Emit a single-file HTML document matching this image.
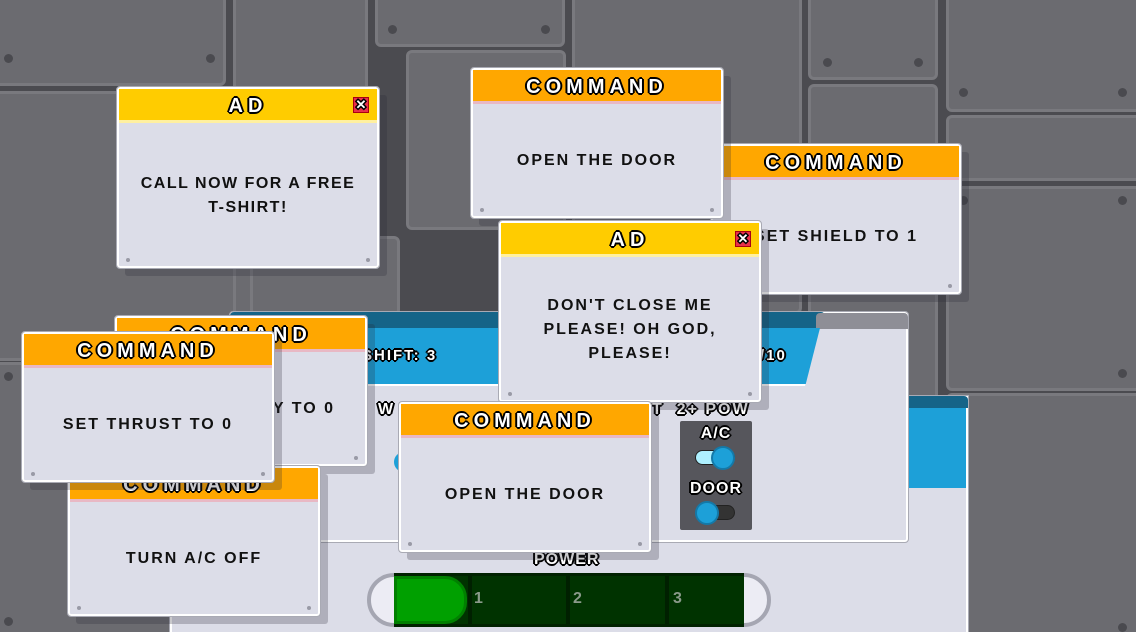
<!DOCTYPE html>
<html style="width:1136px;height:632px;overflow:hidden"><head><meta charset="utf-8"><style>
*{margin:0;padding:0;box-sizing:border-box}
body{width:1136px;height:632px;overflow:hidden;background:#4b4b50;position:relative;font-family:"Liberation Sans",sans-serif}
.p{position:absolute;background:#6b6b70;border:3px solid #79797e;border-radius:6px}
.p i{position:absolute;width:9px;height:9px;border-radius:50%;background:#4a4a4f}
.a{position:absolute}
.win{position:absolute;width:252px;height:150px;background:#dcdde8;border:2px solid #fff;outline:1px solid #a9aab4;border-radius:3px;box-shadow:8px 8px 0 rgba(40,40,50,.25)}
.win .h{height:34px;background:#ffa700;border-bottom:3px solid #e8b8c4;text-align:center;line-height:34px;font-weight:bold;font-size:20px;letter-spacing:5px;color:#fff;text-shadow:-2px 0 0 #000,2px 0 0 #000,0 -2px 0 #000,0 2px 0 #000,-1px -1px 0 #000,1px 1px 0 #000,1px -1px 0 #000,-1px 1px 0 #000}
.win.ad .h{background:#ffcc00;border-bottom-color:#fff0a0}
.win .b{position:absolute;left:0;right:0;top:36px;bottom:0;display:flex;align-items:center;justify-content:center;text-align:center;font-weight:bold;font-size:16px;letter-spacing:2px;color:#111;line-height:24px;padding:0 4px;white-space:nowrap}
.win .d1,.win .d2{position:absolute;bottom:4px;width:4px;height:4px;border-radius:50%;background:#999aa6}
.win .d1{left:7px}.win .d2{right:7px}
.x{position:absolute;right:8px;top:8px;width:16px;height:16px;background:#e8304a;border:1px solid #a01;color:#fff;font-size:13px;line-height:14px;text-align:center;font-weight:bold;letter-spacing:0}
.ol{color:#fff;font-weight:bold;text-shadow:-2px 0 0 #000,2px 0 0 #000,0 -2px 0 #000,0 2px 0 #000,-1px -1px 0 #000,1px 1px 0 #000,1px -1px 0 #000,-1px 1px 0 #000;letter-spacing:2px}
</style></head><body>
<div class="p" style="left:-6px;top:-6px;width:232px;height:92px"><i style="left:7px;bottom:20px"></i><i style="right:8px;bottom:20px"></i></div>
<div class="p" style="left:-6px;top:91px;width:248px;height:270px"></div>
<div class="p" style="left:-6px;top:362px;width:248px;height:280px"><i style="left:7px;top:7px"></i><i style="left:7px;bottom:13px"></i></div>
<div class="p" style="left:233px;top:-6px;width:135px;height:146px"></div>
<div class="p" style="left:233px;top:146px;width:135px;height:180px"></div>
<div class="p" style="left:250px;top:236px;width:150px;height:80px"></div>
<div class="p" style="left:375px;top:-6px;width:190px;height:53px"><i style="left:10px;bottom:10px"></i><i style="right:12px;bottom:10px"></i></div>
<div class="p" style="left:406px;top:50px;width:160px;height:180px"></div>
<div class="p" style="left:572px;top:-6px;width:230px;height:320px"></div>
<div class="p" style="left:808px;top:-6px;width:130px;height:86px"><i style="left:12px;bottom:10px"></i><i style="right:12px;bottom:10px"></i></div>
<div class="p" style="left:808px;top:84px;width:130px;height:330px"></div>
<div class="p" style="left:946px;top:-6px;width:196px;height:118px"><i style="left:10px;bottom:12px"></i><i style="right:12px;bottom:12px"></i></div>
<div class="p" style="left:946px;top:115px;width:196px;height:66px"></div>
<div class="p" style="left:946px;top:186px;width:196px;height:205px"><i style="left:10px;top:7px"></i><i style="right:12px;top:7px"></i><i style="right:12px;bottom:10px"></i></div>
<div class="p" style="left:946px;top:393px;width:196px;height:250px"><i style="right:12px;bottom:8px"></i></div>

<div class="a" style="left:170px;top:396px;width:798px;height:236px;background:#dcdde8;border:2px solid #fff;border-bottom:none;outline:1px solid #a9aab4"></div>
<div class="a" style="left:905px;top:396px;width:63px;height:14px;background:#156488;border-radius:4px 4px 0 0"></div>
<div class="a" style="left:905px;top:408px;width:63px;height:80px;background:#1da0d8;border-right:2px solid #fff"></div>

<div class="a" style="left:230px;top:312px;width:678px;height:230px;background:#dcdde8;border:2px solid #fff;outline:1px solid #a9aab4;border-radius:3px"></div>
<div class="a" style="left:230px;top:312px;width:595px;height:16px;background:#156488;border-radius:4px 4px 0 0"></div>
<div class="a" style="left:816px;top:313px;width:92px;height:16px;background:#8e8e96;border-radius:4px 4px 0 0"></div>
<div class="a" style="left:230px;top:328px;width:590px;height:58px;background:#1da0d8;border-bottom:2px solid #fff;clip-path:polygon(0 0,100% 0,97.5% 100%,0 100%)"></div>
<div class="a ol" style="left:362px;top:347px;font-size:15px">SHIFT: 3</div>
<div class="a ol" style="left:760px;top:347px;font-size:15px">/10</div>
<div class="a ol" style="left:378px;top:401px;font-size:16px">W</div>
<div class="a ol" style="left:652px;top:401px;font-size:16px">T&nbsp;&nbsp;2+ POW</div>
<div class="a" style="left:394px;top:452px;width:10px;height:20px;border-radius:10px 0 0 10px;background:#1da0d8"></div>

<div class="a" style="left:680px;top:421px;width:72px;height:109px;background:#56565c;border-radius:2px"></div>
<div class="a ol" style="left:680px;top:425px;width:72px;text-align:center;font-size:16px;letter-spacing:1px">A/C</div>
<div class="a" style="left:695px;top:450px;width:40px;height:15px;border-radius:8px;background:#aef0ff;border:1px solid #222"></div>
<div class="a" style="left:711px;top:446px;width:24px;height:24px;border-radius:50%;background:#1da0d8;border:2px solid #1479a8"></div>
<div class="a ol" style="left:680px;top:480px;width:72px;text-align:center;font-size:16px;letter-spacing:1px">DOOR</div>
<div class="a" style="left:696px;top:505px;width:39px;height:15px;border-radius:8px;background:#333;border:1px solid #222"></div>
<div class="a" style="left:695px;top:501px;width:24px;height:24px;border-radius:50%;background:#1da0d8;border:2px solid #1479a8"></div>

<div class="a ol" style="left:534px;top:551px;font-size:16px;letter-spacing:1px">POWER</div>
<div class="a" style="left:367px;top:573px;width:404px;height:54px;border-radius:27px;background:#ececf4;border:4px solid #a5a6b2"></div>
<div class="a" style="left:394px;top:573px;width:350px;height:54px;background:#003300;border-top:3px solid #002200;border-bottom:3px solid #002200"></div>
<div class="a" style="left:394px;top:576px;width:73px;height:48px;background:#00a000;border:3px solid #008000;border-radius:0 22px 22px 0"></div>
<div class="a" style="left:468px;top:576px;width:4px;height:48px;background:#002000"></div>
<div class="a" style="left:566px;top:576px;width:4px;height:48px;background:#002000"></div>
<div class="a" style="left:665px;top:576px;width:4px;height:48px;background:#002000"></div>
<div class="a" style="left:474px;top:590px;color:#8a9a8a;font-weight:bold;font-size:16px">1</div>
<div class="a" style="left:573px;top:590px;color:#8a9a8a;font-weight:bold;font-size:16px">2</div>
<div class="a" style="left:673px;top:590px;color:#8a9a8a;font-weight:bold;font-size:16px">3</div>

<div class="win" style="left:115px;top:316px"><div class="h">COMMAND</div><div class="b" style="justify-content:flex-end;padding-right:30px">Y TO 0</div><i class="d1"></i><i class="d2"></i></div>
<div class="win" style="left:68px;top:466px"><div class="h">COMMAND</div><div class="b">TURN A/C OFF</div><i class="d1"></i><i class="d2"></i></div>
<div class="win" style="left:22px;top:332px"><div class="h">COMMAND</div><div class="b">SET THRUST TO 0</div><i class="d1"></i><i class="d2"></i></div>
<div class="win ad" style="left:117px;top:87px;width:262px;height:181px"><div class="h">AD<span class="x">✕</span></div><div class="b" style="letter-spacing:1.5px">CALL NOW FOR A FREE<br>T-SHIRT!</div><i class="d1"></i><i class="d2"></i></div>
<div class="win" style="left:711px;top:144px;width:250px"><div class="h">COMMAND</div><div class="b">SET SHIELD TO 1</div><i class="d1"></i><i class="d2"></i></div>
<div class="win" style="left:471px;top:68px"><div class="h">COMMAND</div><div class="b">OPEN THE DOOR</div><i class="d1"></i><i class="d2"></i></div>
<div class="win ad" style="left:499px;top:221px;width:262px;height:181px"><div class="h">AD<span class="x">✕</span></div><div class="b">DON'T CLOSE ME<br>PLEASE! OH GOD,<br>PLEASE!</div><i class="d1"></i><i class="d2"></i></div>
<div class="win" style="left:399px;top:402px"><div class="h">COMMAND</div><div class="b">OPEN THE DOOR</div><i class="d1"></i><i class="d2"></i></div>
</body></html>
